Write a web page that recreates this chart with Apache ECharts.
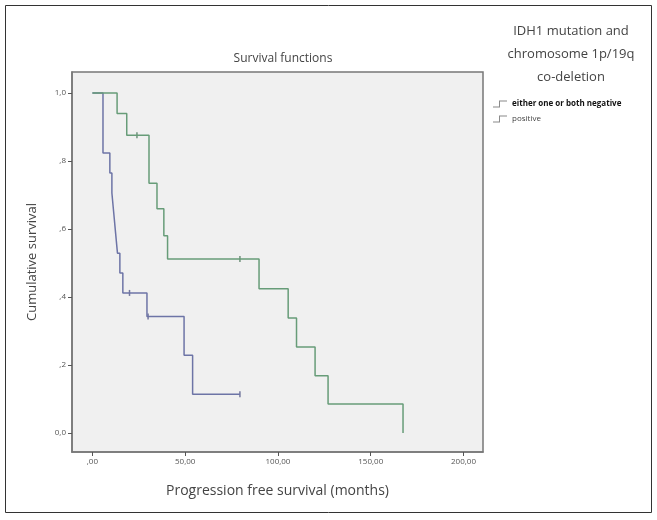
<!DOCTYPE html>
<html><head><meta charset="utf-8">
<script src="https://cdn.jsdelivr.net/npm/echarts@6/dist/echarts.min.js"></script>
<style>html,body{margin:0;padding:0;background:#fff}#c{width:657px;height:520px}</style>
</head><body><div id="c"></div>
<script>
// Kaplan-Meier steps (time in months, cumulative survival after event)
const negTimes = [0, 5.7, 9.4, 10.5, 11.5, 12.5, 13.5, 14.8, 16.4, 29.4, 49.4, 54.0, 79.5];
const negSurv  = [1.0, 0.824, 0.765, 0.706, 0.647, 0.588, 0.529, 0.471, 0.412, 0.343, 0.229, 0.114, 0.114];
const posTimes = [0, 13.3, 18.5, 30.5, 34.8, 38.5, 40.5, 89.8, 105.5, 110.0, 120.0, 127.0, 167.4];
const posSurv  = [1.0, 0.94, 0.876, 0.735, 0.66, 0.58, 0.512, 0.424, 0.338, 0.253, 0.168, 0.085, 0.0];
// censored observations
const negCensTimes = [20.0, 30.0, 79.5];
const negCensSurv  = [0.412, 0.343, 0.114];
const posCensTimes = [24.0, 79.5];
const posCensSurv  = [0.876, 0.512];
const xTickValues = [0, 50, 100, 150, 200];
const xTickLabels = [',00', '50,00', '100,00', '150,00', '200,00'];
const yTickValues = [0, 0.2, 0.4, 0.6, 0.8, 1.0];
const yTickLabels = ['0,0', ',2', ',4', ',6', ',8', '1,0'];
const seriesNames = ['either one or both negative', 'positive'];

const zip = (a, b) => a.map((v, i) => [v, b[i]]);
const blue = '#6d74a6', green = '#679c78';
const font = '"Open Sans", "Noto Sans", sans-serif';
const stepIcon = 'path://M0,9L6,9L6,3L14,3L14,4L7,4L7,10L0,10Z';
const chart = echarts.init(document.getElementById('c'));
chart.setOption({
  animation: false,
  backgroundColor: '#fff',
  title: [
    {text: 'Survival functions', left: 278, top: 48, textAlign: 'center',
     textStyle: {fontFamily: font, fontSize: 12, fontWeight: 'normal', color: '#444'}},
    {text: 'IDH1 mutation and\nchromosome 1p/19q\nco-deletion', left: 566, top: 15, textAlign: 'center',
     textStyle: {fontFamily: font, fontSize: 13, fontWeight: 'normal', color: '#444', lineHeight: 23, align: 'center'}}
  ],
  legend: {
    orient: 'vertical', left: 488, top: 95, itemGap: 7, itemWidth: 14, itemHeight: 10,
    textStyle: {fontFamily: font, fontSize: 8, color: '#444'},
    data: [
      {name: seriesNames[0], icon: stepIcon, itemStyle: {color: '#8a8a8a'}, textStyle: {fontWeight: 'bold', color: '#111'}},
      {name: seriesNames[1], icon: stepIcon, itemStyle: {color: '#8a8a8a'}}
    ]
  },
  grid: {left: 72, top: 72, width: 411, height: 380, show: true, backgroundColor: '#f0f0f0', borderColor: '#777', borderWidth: 1.5},
  xAxis: {
    type: 'value', min: -11, max: 210.5,
    name: 'Progression free survival (months)', nameLocation: 'middle', nameGap: 32,
    nameTextStyle: {fontFamily: font, fontSize: 14, color: '#444'},
    axisLine: {show: true, onZero: false, lineStyle: {color: '#777', width: 1.5}},
    axisTick: {show: true, length: 4, customValues: xTickValues, lineStyle: {color: '#555'}},
    axisLabel: {customValues: xTickValues, fontFamily: font, fontSize: 8, color: '#555', margin: 6,
      formatter: v => xTickLabels[xTickValues.indexOf(v)]},
    splitLine: {show: false}
  },
  yAxis: {
    type: 'value', min: -0.056, max: 1.062,
    name: 'Cumulative survival', nameLocation: 'middle', nameGap: 33, nameRotate: 90,
    nameTextStyle: {fontFamily: font, fontSize: 13, color: '#444'},
    axisLine: {show: true, onZero: false, lineStyle: {color: '#777', width: 1.5}},
    axisTick: {show: true, length: 4, customValues: yTickValues, lineStyle: {color: '#555'}},
    axisLabel: {customValues: yTickValues, fontFamily: font, fontSize: 8, color: '#555', margin: 6,
      formatter: v => yTickLabels[yTickValues.findIndex(t => Math.abs(t - v) < 1e-6)]},
    splitLine: {show: false}
  },
  series: [
    {name: seriesNames[0], type: 'line', step: 'end', data: zip(negTimes, negSurv), showSymbol: false,
     lineStyle: {color: blue, width: 1.5}, itemStyle: {color: blue}},
    {name: seriesNames[1], type: 'line', step: 'end', data: zip(posTimes, posSurv), showSymbol: false,
     lineStyle: {color: green, width: 1.5}, itemStyle: {color: green}},
    {name: seriesNames[0], type: 'scatter', data: zip(negCensTimes, negCensSurv), symbol: 'rect', symbolSize: [1.5, 6],
     itemStyle: {color: '#555a8a'}},
    {name: seriesNames[1], type: 'scatter', data: zip(posCensTimes, posCensSurv), symbol: 'rect', symbolSize: [1.5, 6],
     itemStyle: {color: '#4f7a5e'}}
  ],
  graphic: [
    {type: 'rect', shape: {x: 5.5, y: 5.5, width: 646, height: 507}, style: {fill: 'none', stroke: '#333', lineWidth: 1}, silent: true}
  ]
});
</script></body></html>
